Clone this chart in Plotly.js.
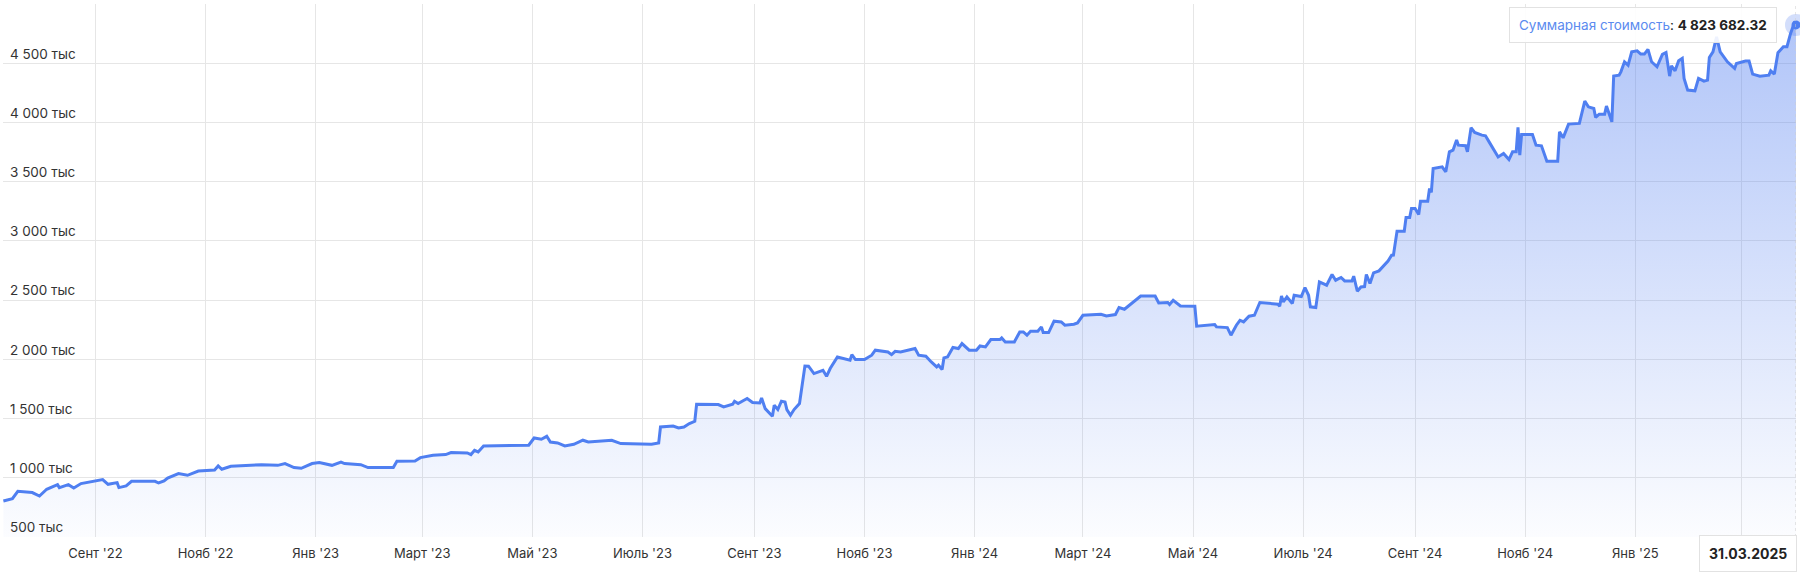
<!DOCTYPE html>
<html>
<head>
<meta charset="utf-8">
<script src="https://cdn.plot.ly/plotly-3.0.1.min.js"></script>
<style>
  html, body { margin: 0; padding: 0; background: #ffffff; }
  #chart { width: 1800px; height: 584px; }
</style>
</head>
<body>
<div id="chart"></div>
<script>
// ---- DATA ----
const dates = [
"2022-07-12","2022-07-17","2022-07-20","2022-07-28","2022-08-01","2022-08-05","2022-08-11","2022-08-12","2022-08-17","2022-08-20",
"2022-08-24","2022-09-01","2022-09-05","2022-09-08","2022-09-13","2022-09-14","2022-09-18","2022-09-21","2022-10-04","2022-10-06",
"2022-10-09","2022-10-11","2022-10-17","2022-10-22","2022-10-28","2022-11-06","2022-11-08","2022-11-10","2022-11-15","2022-12-02",
"2022-12-11","2022-12-15","2022-12-20","2022-12-24","2022-12-30","2023-01-03","2023-01-10","2023-01-15","2023-01-17","2023-01-26",
"2023-01-30","2023-02-13","2023-02-15","2023-02-25","2023-02-28","2023-03-07","2023-03-14","2023-03-17","2023-03-26","2023-03-28",
"2023-03-30","2023-04-01","2023-04-04","2023-04-29","2023-05-02","2023-05-06","2023-05-09","2023-05-11","2023-05-15","2023-05-19",
"2023-05-24","2023-05-29","2023-06-01","2023-06-14","2023-06-19","2023-07-06","2023-07-10","2023-07-11","2023-07-18","2023-07-21",
"2023-07-24","2023-07-27","2023-07-30","2023-07-31","2023-08-12","2023-08-15","2023-08-20","2023-08-21","2023-08-23","2023-08-28",
"2023-08-31","2023-09-04","2023-09-05","2023-09-07","2023-09-11","2023-09-12","2023-09-14","2023-09-16","2023-09-18","2023-09-19",
"2023-09-21","2023-09-23","2023-09-26","2023-09-29","2023-10-01","2023-10-04","2023-10-09","2023-10-11","2023-10-13","2023-10-17",
"2023-10-24","2023-10-25","2023-10-27","2023-11-01","2023-11-05","2023-11-07","2023-11-14","2023-11-16","2023-11-18","2023-11-21",
"2023-11-29","2023-12-01","2023-12-05","2023-12-08","2023-12-11","2023-12-12","2023-12-14","2023-12-15","2023-12-17","2023-12-20",
"2023-12-23","2023-12-25","2023-12-29","2024-01-02","2024-01-04","2024-01-07","2024-01-10","2024-01-15","2024-01-16","2024-01-18",
"2024-01-23","2024-01-26","2024-01-28","2024-01-30","2024-02-01","2024-02-05","2024-02-07","2024-02-08","2024-02-11","2024-02-14",
"2024-02-18","2024-02-20","2024-02-25","2024-02-27","2024-03-01","2024-03-11","2024-03-14","2024-03-19","2024-03-21","2024-03-24",
"2024-03-28","2024-03-29","2024-04-02","2024-04-10","2024-04-12","2024-04-17","2024-04-18","2024-04-20","2024-04-24","2024-05-02",
"2024-05-03","2024-05-13","2024-05-14","2024-05-20","2024-05-22","2024-05-25","2024-05-27","2024-05-29","2024-06-01","2024-06-04",
"2024-06-07","2024-06-17","2024-06-18","2024-06-19","2024-06-20","2024-06-22","2024-06-25","2024-06-26","2024-06-30","2024-07-02",
"2024-07-04","2024-07-05","2024-07-08","2024-07-10","2024-07-14","2024-07-17","2024-07-19","2024-07-22","2024-07-24","2024-07-28",
"2024-07-29","2024-07-31","2024-08-02","2024-08-04","2024-08-05","2024-08-07","2024-08-09","2024-08-12","2024-08-16","2024-08-17",
"2024-08-19","2024-08-20","2024-08-22","2024-08-26","2024-08-27","2024-08-29","2024-08-30","2024-09-01","2024-09-03","2024-09-04",
"2024-09-08","2024-09-09","2024-09-10","2024-09-11","2024-09-16","2024-09-18","2024-09-20","2024-09-22","2024-09-24","2024-09-25",
"2024-09-29","2024-09-30","2024-10-02","2024-10-04","2024-10-08","2024-10-10","2024-10-12","2024-10-15","2024-10-17","2024-10-20",
"2024-10-23","2024-10-25","2024-10-27","2024-10-28","2024-10-29","2024-10-30","2024-11-05","2024-11-07","2024-11-10","2024-11-13",
"2024-11-19","2024-11-20","2024-11-22","2024-11-25","2024-12-01","2024-12-04","2024-12-06","2024-12-09","2024-12-10","2024-12-12",
"2024-12-15","2024-12-16","2024-12-19","2024-12-20","2024-12-23","2024-12-24","2024-12-26","2024-12-28","2024-12-30","2025-01-02",
"2025-01-04","2025-01-06","2025-01-08","2025-01-10","2025-01-13","2025-01-16","2025-01-18","2025-01-20","2025-01-21","2025-01-23",
"2025-01-25","2025-01-27","2025-01-28","2025-01-30","2025-02-03","2025-02-05","2025-02-08","2025-02-10","2025-02-11","2025-02-13",
"2025-02-15","2025-02-17","2025-02-21","2025-02-25","2025-02-26","2025-03-03","2025-03-05","2025-03-07","2025-03-11","2025-03-16",
"2025-03-17","2025-03-19","2025-03-21","2025-03-24","2025-03-26","2025-03-28","2025-03-30","2025-03-31"
];

const totalValue = [
804000,824000,886000,875000,846000,903000,942000,917000,942000,914000,
951000,970000,985000,945000,959000,917000,931000,970000,970000,956000,
973000,998000,1035000,1021000,1057000,1066000,1100000,1072000,1097000,1111000,
1105000,1120000,1086000,1080000,1120000,1128000,1105000,1133000,1120000,1111000,
1086000,1086000,1139000,1141000,1170000,1190000,1196000,1213000,1210000,1196000,
1232000,1218000,1269000,1275000,1336000,1325000,1350000,1302000,1294000,1269000,
1283000,1317000,1302000,1317000,1289000,1283000,1294000,1429000,1437000,1420000,
1429000,1458000,1477000,1621000,1618000,1598000,1621000,1646000,1627000,1669000,
1635000,1632000,1674000,1584000,1519000,1612000,1576000,1646000,1640000,1576000,
1528000,1576000,1627000,1944000,1942000,1880000,1908000,1857000,1922000,2020000,
1992000,2040000,1998000,1998000,2035000,2077000,2062000,2040000,2068000,2062000,
2091000,2035000,2026000,1978000,1936000,1950000,1914000,2012000,2020000,2100000,
2091000,2133000,2077000,2077000,2113000,2105000,2167000,2167000,2181000,2147000,
2147000,2231000,2231000,2204000,2237000,2237000,2274000,2226000,2226000,2322000,
2316000,2288000,2296000,2307000,2372000,2381000,2366000,2378000,2437000,2423000,
2471000,2491000,2535000,2535000,2476000,2480000,2463000,2499000,2451000,2449000,
2280000,2294000,2274000,2268000,2204000,2288000,2330000,2316000,2364000,2372000,
2480000,2466000,2449000,2535000,2485000,2527000,2471000,2541000,2530000,2606000,
2541000,2443000,2437000,2654000,2626000,2716000,2668000,2691000,2662000,2662000,
2702000,2575000,2611000,2614000,2716000,2640000,2730000,2747000,2809000,2830000,
2879000,2880000,3082000,3082000,3198000,3198000,3274000,3274000,3223000,3335000,
3335000,3442000,3409000,3611000,3625000,3583000,3752000,3766000,3851000,3808000,
3803000,3752000,3955000,3916000,3893000,3887000,3836000,3752000,3709000,3738000,
3687000,3752000,3752000,3958000,3724000,3899000,3899000,3808000,3803000,3673000,
3673000,3921000,3870000,3986000,3992000,4180000,4132000,4118000,4042000,4070000,
4070000,4138000,4005000,4391000,4399000,4427000,4512000,4484000,4596000,4605000,
4577000,4577000,4617000,4512000,4470000,4575000,4591000,4391000,4478000,4436000,
4520000,4540000,4372000,4273000,4267000,4372000,4349000,4357000,4549000,4596000,
4723000,4596000,4512000,4456000,4498000,4518000,4518000,4408000,4391000,4399000,
4436000,4408000,4588000,4639000,4639000,4752000,4837000,4823682.32
];

// the last tick label (Март '25) is hidden behind the date box in the reference
const xTickVals = ["2022-09-01","2022-11-01","2023-01-01","2023-03-01","2023-05-01","2023-07-01","2023-09-01","2023-11-01",
                   "2024-01-01","2024-03-01","2024-05-01","2024-07-01","2024-09-01","2024-11-01","2025-01-01","2025-03-01"];
const xTickText = ["Сент '22","Нояб '22","Янв '23","Март '23","Май '23","Июль '23","Сент '23","Нояб '23",
                   "Янв '24","Март '24","Май '24","Июль '24","Сент '24","Нояб '24","Янв '25",""];
const yTickVals = [500000,1000000,1500000,2000000,2500000,3000000,3500000,4000000,4500000,5000000];
const yTickText = ["500 тыс","1 000 тыс","1 500 тыс","2 000 тыс","2 500 тыс","3 000 тыс","3 500 тыс","4 000 тыс","4 500 тыс",""];
const seriesName = "Суммарная стоимость";

// ---- helpers ----
const lastIdx = dates.length - 1;
const lastDate = dates[lastIdx];
const lastVal = totalValue[lastIdx];
function fmtMoney(v) {
  const parts = v.toFixed(2).split(".");
  return parts[0].replace(/\B(?=(\d{3})+(?!\d))/g, " ") + "." + parts[1];
}
function fmtDate(d) {
  const p = d.split("-");
  return p[2] + "." + p[1] + "." + p[0];
}

const lineColor = "#4f7ff1";
const FONT = "Inter, 'Open Sans', sans-serif";

const traces = [
  {
    type: "scatter", mode: "lines",
    x: dates, y: totalValue,
    line: { color: lineColor, width: 3, shape: "linear" },
    fill: "tozeroy",
    fillgradient: {
      type: "vertical",
      start: 500000, stop: 5000000,
      colorscale: [[0, "rgba(80,125,240,0.02)"], [1, "rgba(80,125,240,0.46)"]]
    },
    hoverinfo: "skip", showlegend: false
  },
  {
    type: "scatter", mode: "markers",
    x: [lastDate], y: [lastVal],
    marker: { size: 22, color: "rgba(80,125,240,0.25)" },
    cliponaxis: false, hoverinfo: "skip", showlegend: false
  },
  {
    type: "scatter", mode: "markers",
    x: [lastDate], y: [lastVal],
    marker: { size: 9, color: lineColor },
    cliponaxis: false, hoverinfo: "skip", showlegend: false
  }
];

const layout = {
  width: 1800, height: 584,
  margin: { l: 3, r: 4, t: 4, b: 47, pad: 0 },
  paper_bgcolor: "#ffffff", plot_bgcolor: "#ffffff",
  font: { family: FONT, size: 13, color: "#333333" },
  showlegend: false,
  hovermode: false,
  xaxis: {
    type: "date",
    range: ["2022-07-11 19:00", lastDate],
    tickmode: "array", tickvals: xTickVals, ticktext: xTickText,
    showgrid: true, gridcolor: "#e6e6e6", gridwidth: 1,
    zeroline: false, showline: false, ticks: "",
    tickfont: { size: 13, color: "#333333" },
    ticklabelstandoff: 7,
    fixedrange: true
  },
  yaxis: {
    range: [500000, 5000000],
    tickmode: "array", tickvals: yTickVals, ticktext: yTickText,
    showgrid: true, gridcolor: "#e6e6e6", gridwidth: 1,
    zeroline: false, showline: false, ticks: "",
    ticklabelposition: "inside top",
    ticklabelstandoff: 4,
    tickfont: { size: 13.5, color: "#333333" },
    fixedrange: true
  },
  shapes: [
    { type: "line", xref: "x", yref: "paper", x0: lastDate, x1: lastDate, y0: 0, y1: 1,
      line: { color: "#cccccc", width: 1, dash: "dot" } }
  ],
  annotations: [
    {
      xref: "x", yref: "y", x: lastDate, y: lastVal,
      xanchor: "right", yanchor: "middle", xshift: -19,
      text: '<span style="color:#5b8bef">' + seriesName + '</span>: <b>' + fmtMoney(lastVal) + '</b>',
      showarrow: false,
      font: { size: 13.5, color: "#222222", family: FONT },
      bgcolor: "rgba(255,255,255,0.9)", bordercolor: "#e2e2e2", borderwidth: 1, borderpad: 9
    },
    {
      xref: "x", yref: "paper", x: lastDate, y: 0,
      xanchor: "right", yanchor: "top", xshift: 1, yshift: 2,
      text: '<b>' + fmtDate(lastDate) + '</b>',
      showarrow: false,
      font: { size: 14, color: "#222222", family: FONT },
      bgcolor: "rgba(255,255,255,0.95)", bordercolor: "#e2e2e2", borderwidth: 1, borderpad: 9
    }
  ]
};

Plotly.newPlot("chart", traces, layout, { displayModeBar: false, staticPlot: true });
</script>
</body>
</html>
